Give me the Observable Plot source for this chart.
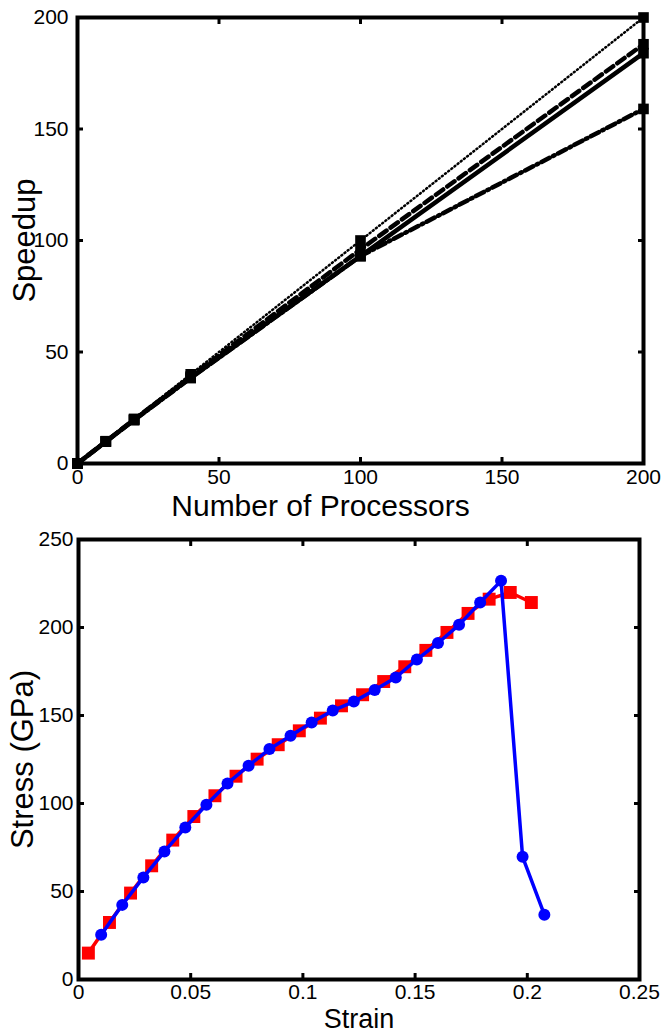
<!DOCTYPE html>
<html><head><meta charset="utf-8">
<script src="https://cdn.jsdelivr.net/npm/d3@7"></script>
<script src="https://cdn.jsdelivr.net/npm/@observablehq/plot@0.6"></script>
<style>
body{margin:0;background:#fff;}
#c svg{display:block;}
</style></head><body><div id="c"></div>
<script>
// ---- Chart 1: speedup ----
const procs = [0, 10, 20, 40, 100, 200];
const speedIdeal = [0, 10, 20, 40, 100, 200];
const speedSolid = [0, 9.8, 19.5, 38.5, 93, 184];
const speedDashed = [0, 9.9, 19.7, 39, 96, 188];
const speedDashDot = [0, 9.8, 19.5, 38.3, 93, 159];
const procTicks = [0, 50, 100, 150, 200];
const procTickLabels = ["0", "50", "100", "150", "200"];
const speedTicks = [0, 50, 100, 150, 200];
const speedTickLabels = ["0", "50", "100", "150", "200"];

// ---- Chart 2: stress-strain ----
const strainRef = [0.0044, 0.0138, 0.0232, 0.0326, 0.0420, 0.0514, 0.0608, 0.0702, 0.0796, 0.0890, 0.0984,
  0.1078, 0.1172, 0.1266, 0.1360, 0.1454, 0.1548, 0.1642, 0.1736, 0.1830, 0.1924, 0.2018];
const stressRef = [15.0, 32.4, 49.1, 64.6, 79.2, 92.6, 104.4, 115.5, 125.2, 133.4, 141.3,
  148.5, 155.5, 161.8, 169.3, 177.7, 187.0, 197.2, 208.0, 216.1, 219.9, 214.2];
const strainSim = [0.0101, 0.0195, 0.0289, 0.0383, 0.0476, 0.0570, 0.0664, 0.0758, 0.0851, 0.0945, 0.1039,
  0.1133, 0.1227, 0.1320, 0.1414, 0.1508, 0.1602, 0.1696, 0.1790, 0.1883, 0.1979, 0.2076];
const stressSim = [25.4, 42.4, 58.0, 72.7, 86.4, 99.3, 111.4, 121.5, 130.9, 138.5, 146.0,
  152.8, 157.9, 164.5, 171.6, 181.8, 191.2, 201.5, 214.2, 226.5, 69.7, 36.8];
const strainTicks = [0, 0.05, 0.1, 0.15, 0.2, 0.25];
const strainTickLabels = ["0", "0.05", "0.1", "0.15", "0.2", "0.25"];
const stressTicks = [0, 50, 100, 150, 200, 250];
const stressTickLabels = ["0", "50", "100", "150", "200", "250"];

const font = "'Liberation Sans', Arial, Helvetica, sans-serif";
const pts = (xs, ys) => xs.map((x, i) => ({x, y: ys[i]}));
const lab = (ticks, labels) => d => labels[ticks.indexOf(d)];

function frameAxes(xT, xL, yT, yL, fs, xPad, yPad) {
  return [
    Plot.frame({stroke: "black", strokeWidth: 4}),
    Plot.axisX({anchor: "bottom", ticks: xT, tickSize: -6, strokeWidth: 3, tickPadding: xPad, fontSize: fs, tickFormat: lab(xT, xL), label: null}),
    Plot.axisX({anchor: "top", ticks: xT, tickSize: -6, strokeWidth: 3, tickFormat: () => "", label: null}),
    Plot.axisY({anchor: "left", ticks: yT, tickSize: -6, strokeWidth: 3, tickPadding: yPad, fontSize: fs, tickFormat: lab(yT, yL), label: null}),
    Plot.axisY({anchor: "right", ticks: yT, tickSize: -6, strokeWidth: 3, tickFormat: () => "", label: null})
  ];
}

const all = [
  ...pts(procs, speedIdeal), ...pts(procs, speedDashed), ...pts(procs, speedDashDot), ...pts(procs, speedSolid)
];

const chart1 = Plot.plot({
  width: 663, height: 526,
  marginLeft: 77, marginRight: 20, marginTop: 17, marginBottom: 63,
  style: {fontFamily: font, background: "white", color: "black"},
  x: {domain: [0, 200]},
  y: {domain: [0, 200]},
  marks: [
    Plot.line(pts(procs, speedIdeal), {x: "x", y: "y", stroke: "black", strokeWidth: 2.5, strokeDasharray: "1,3"}),
    Plot.line(pts(procs, speedDashed), {x: "x", y: "y", stroke: "black", strokeWidth: 4.5, strokeDasharray: "9,5"}),
    Plot.line(pts(procs, speedDashDot), {x: "x", y: "y", stroke: "black", strokeWidth: 4.5, strokeDasharray: "9,4,1.5,4"}),
    Plot.line(pts(procs, speedSolid), {x: "x", y: "y", stroke: "black", strokeWidth: 4.5}),
    Plot.dot(all, {x: "x", y: "y", symbol: "square", fill: "black", r: 6}),
    ...frameAxes(procTicks, procTickLabels, speedTicks, speedTickLabels, 21, 12, 15),
    Plot.text(["Number of Processors"], {text: d => d, frameAnchor: "bottom", lineAnchor: "middle", textAnchor: "middle", dx: -40, dy: 43, fontSize: 30}),
    Plot.text(["Speedup"], {text: d => d, frameAnchor: "left", lineAnchor: "middle", textAnchor: "middle", dx: -52, rotate: -90, fontSize: 31})
  ]
});

const chart2 = Plot.plot({
  width: 663, height: 506,
  marginLeft: 78, marginRight: 24, marginTop: 13, marginBottom: 53,
  style: {fontFamily: font, background: "white", color: "black"},
  x: {domain: [0, 0.25]},
  y: {domain: [0, 250]},
  marks: [
    Plot.line(pts(strainRef, stressRef), {x: "x", y: "y", stroke: "#ff0000", strokeWidth: 3.5}),
    Plot.dot(pts(strainRef, stressRef), {x: "x", y: "y", symbol: "square", fill: "#ff0000", r: 7.3}),
    Plot.line(pts(strainSim, stressSim), {x: "x", y: "y", stroke: "#0000ff", strokeWidth: 3.5}),
    Plot.dot(pts(strainSim, stressSim), {x: "x", y: "y", symbol: "circle", fill: "#0000ff", r: 6}),
    ...frameAxes(strainTicks, strainTickLabels, stressTicks, stressTickLabels, 21, 11, 11),
    Plot.text(["Strain"], {text: d => d, frameAnchor: "bottom", lineAnchor: "bottom", textAnchor: "middle", dy: 48, fontSize: 27}),
    Plot.text(["Stress (GPa)"], {text: d => d, frameAnchor: "left", lineAnchor: "middle", textAnchor: "middle", dx: -55, rotate: -90, fontSize: 31})
  ]
});

document.getElementById("c").append(chart1, chart2);
</script></body></html>
